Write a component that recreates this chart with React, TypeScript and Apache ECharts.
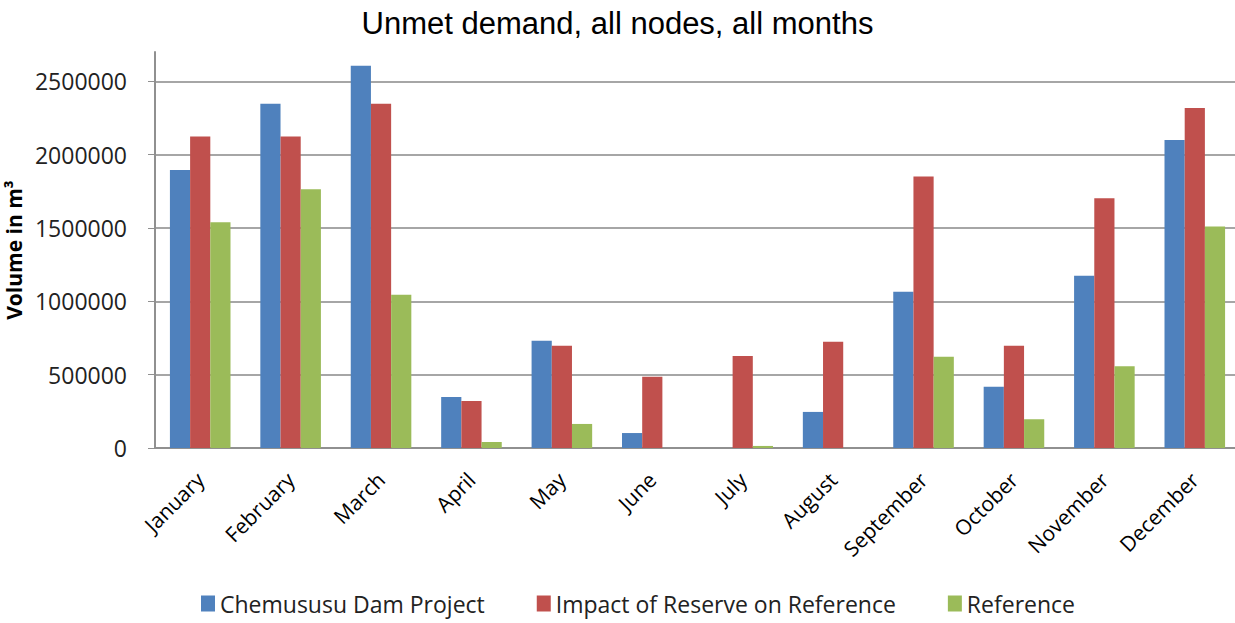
import React, { useEffect, useRef } from "react";
import * as echarts from "echarts";

const months = ["January", "February", "March", "April", "May", "June", "July", "August", "September", "October", "November", "December"];
const chemususu = [1895000, 2348000, 2607000, 348000, 731000, 102000, 0, 246000, 1066000, 417000, 1175000, 2100000];
const impactReserve = [2124000, 2124000, 2348000, 321000, 697000, 485000, 628000, 724000, 1851000, 697000, 1703000, 2318000];
const reference = [1540000, 1765000, 1045000, 41000, 164000, 0, 14000, 0, 622000, 196000, 558000, 1510000];

const FONT = "'Open Sans', 'Noto Sans', sans-serif";

export default function App() {
  const ref = useRef<HTMLDivElement>(null);
  useEffect(() => {
    document.body.style.margin = "0";
    if (!ref.current) return;
    const chart = echarts.init(ref.current, undefined, { renderer: "svg" });
    chart.setOption({
      animation: false,
      backgroundColor: "#ffffff",
      title: {
        text: "Unmet demand, all nodes, all months",
        left: "center",
        top: 3,
        textStyle: { fontFamily: "'Liberation Sans', Arial, sans-serif", fontSize: 31, fontWeight: "normal", color: "#000" },
      },
      legend: {
        bottom: 3,
        left: 196,
        itemWidth: 14,
        itemHeight: 16,
        itemGap: 52,
        icon: "rect",
        textStyle: { fontFamily: FONT, fontSize: 23, color: "#222" },
      },
      grid: { left: 155, right: -5, top: 52, bottom: 175, containLabel: false, outerBoundsMode: "none" },
      xAxis: {
        type: "category",
        data: months,
        axisLine: { lineStyle: { color: "#909090", width: 2 } },
        axisTick: { alignWithLabel: false, length: 7, lineStyle: { color: "#909090", width: 1.5 } },
        axisLabel: { rotate: 45, interval: 0, margin: 28, fontFamily: FONT, fontSize: 21, color: "#000" },
      },
      yAxis: {
        type: "value",
        min: 0,
        max: 2700000,
        interval: 500000,
        name: "Volume in m³",
        nameLocation: "middle",
        nameGap: 112,
        nameTextStyle: { fontFamily: FONT, fontSize: 21, fontWeight: "bold", color: "#000" },
        axisLine: { show: true, lineStyle: { color: "#909090", width: 2 } },
        axisTick: { show: true, length: 7, lineStyle: { color: "#909090" } },
        axisLabel: {
          showMaxLabel: false,
          margin: 28,
          fontFamily: FONT,
          fontSize: 23,
          color: "#222",
          formatter: (v: number) => String(v),
        },
        splitLine: { show: true, showMaxLine: false, lineStyle: { color: "#a6a6a6", width: 2 } },
      },
      series: [
        { name: "Chemususu Dam Project", type: "bar", data: chemususu, itemStyle: { color: "#4F81BD" }, barGap: "0%", barCategoryGap: "33%" },
        { name: "Impact of Reserve on Reference", type: "bar", data: impactReserve, itemStyle: { color: "#C0504D" } },
        { name: "Reference", type: "bar", data: reference, itemStyle: { color: "#9BBB59" } },
      ],
    });
    return () => chart.dispose();
  }, []);
  return <div ref={ref} style={{ width: 1235, height: 623 }} />;
}
